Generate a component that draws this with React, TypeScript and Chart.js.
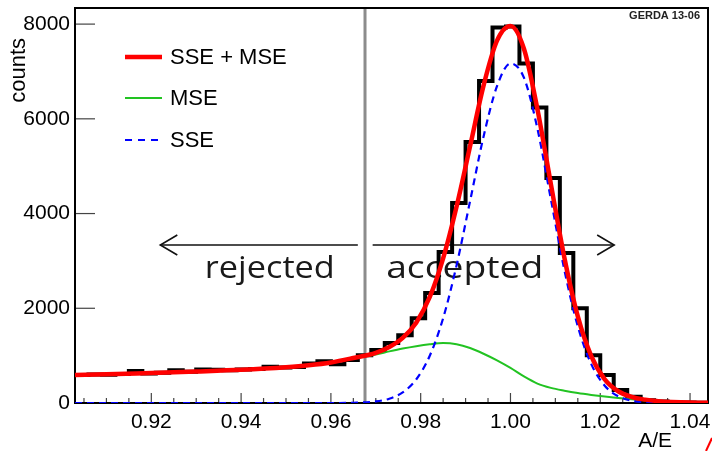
import React, { useEffect, useRef } from "react";
import { Chart, registerables } from "chart.js";

Chart.register(...registerables);

// ---------- data ----------
const histEdges = [
  0.903, 0.906, 0.909, 0.912, 0.915, 0.918, 0.921, 0.924, 0.927, 0.930, 0.933, 0.936,
  0.939, 0.942, 0.945, 0.948, 0.951, 0.954, 0.957, 0.960, 0.963, 0.966, 0.969, 0.972,
  0.975, 0.978, 0.981, 0.984, 0.987, 0.990, 0.993, 0.996, 0.999, 1.002, 1.005, 1.008,
  1.011, 1.014, 1.017, 1.020, 1.023, 1.026, 1.029, 1.032, 1.035, 1.038, 1.041, 1.044,
];
const histCounts = [
  590, 600, 595, 610, 675, 625, 640, 690, 660, 705, 700, 690, 705, 720, 765, 750, 760,
  835, 880, 820, 910,
  1010, 1120, 1265, 1430, 1790, 2320, 3190, 4225, 5510, 6800, 7930, 7950, 7170, 6240,
  4750, 3165, 2000, 1010, 590, 275, 130, 60, 30, 15, 8, 3,
];
const fitX = [
  0.903, 0.91, 0.92, 0.93, 0.94, 0.95, 0.955, 0.96, 0.965, 0.97, 0.973, 0.976, 0.979,
  0.982, 0.985, 0.988, 0.991, 0.994, 0.997, 1.0, 1.003, 1.006, 1.009, 1.012, 1.015,
  1.018, 1.021, 1.024, 1.027, 1.03, 1.033, 1.036, 1.04, 1.044,
];
const fitTotal = [
  590, 605, 635, 665, 700, 755, 795, 855, 950, 1058, 1181, 1374, 1696, 2233, 3055,
  4150, 5420, 6700, 7650, 7960, 7480, 6205, 4623, 3073, 1829, 990, 500, 248, 127, 71,
  39, 21, 8, 3,
];
const fitMSE = [
  590, 605, 635, 665, 700, 755, 795, 855, 945, 1025, 1090, 1150, 1200, 1240, 1265,
  1240, 1160, 1040, 900, 740, 560, 410, 320, 260, 210, 170, 135, 105, 78, 55, 35, 20,
  8, 3,
];
const fitSSE = [
  0, 0, 0, 0, 0, 0, 0, 0, 5, 33, 91, 224, 496, 993, 1790, 2910, 4261, 5624, 6689, 7169,
  6869, 5795, 4303, 2813, 1619, 820, 365, 143, 49, 16, 4, 1, 0, 0,
];
const xTickValues = [0.92, 0.94, 0.96, 0.98, 1.0, 1.02, 1.04];
const yTickValues = [0, 2000, 4000, 6000, 8000];
const seriesLabels = ["SSE + MSE", "MSE", "SSE"];
const seriesColors = ["#ff0000", "#22c322", "#0000ff"];
const xAxisTitle = "A/E";
const yAxisTitle = "counts";
const stampText = "GERDA 13-06";
const regionLabels = ["rejected", "accepted"];
const cutValue = 0.9676;
const arrowLevel = 3335;
const textLevel = 2645;
const rejectArrow = [0.966, 0.922];
const acceptArrow = [0.9693, 1.0231];
const regionLabelCenters = [0.9464, 0.9898];

const X_MIN = 0.903;
const X_MAX = 1.044;
const Y_MAX = 8340;

const FONT = "'Liberation Sans', Arial, Helvetica, sans-serif";

function seg(ctx: CanvasRenderingContext2D, x1: number, y1: number, x2: number, y2: number) {
  ctx.beginPath();
  ctx.moveTo(x1, y1);
  ctx.lineTo(x2, y2);
  ctx.stroke();
}

function arrow(ctx: CanvasRenderingContext2D, tail: number, tip: number, y: number) {
  const dir = Math.sign(tip - tail);
  seg(ctx, tail, y, tip, y);
  ctx.beginPath();
  ctx.moveTo(tip - dir * 17, y - 10);
  ctx.lineTo(tip, y);
  ctx.lineTo(tip - dir * 17, y + 10);
  ctx.stroke();
}

function fitText(ctx: CanvasRenderingContext2D, text: string, cx: number, by: number, target: number) {
  const w = ctx.measureText(text).width;
  ctx.save();
  ctx.translate(cx, by);
  ctx.scale(target / w, 1);
  ctx.textAlign = "center";
  ctx.textBaseline = "alphabetic";
  ctx.fillText(text, 0, 0);
  ctx.restore();
}

const decorPlugin = {
  id: "decor",
  beforeDatasetsDraw(chart: any) {
    const { ctx, chartArea: a } = chart;
    const xs = chart.scales.x;
    const ys = chart.scales.y;
    ctx.save();
    // cut line
    const cx = xs.getPixelForValue(cutValue);
    ctx.strokeStyle = "#8c8c8c";
    ctx.lineWidth = 3;
    seg(ctx, cx, a.top, cx, a.bottom);
    // y ticks
    ctx.strokeStyle = "#444";
    ctx.lineWidth = 1.2;
    for (const t of ys.ticks) {
      const py = ys.getPixelForValue(t.value);
      seg(ctx, a.left, py, a.left + 20, py);
    }
    // x ticks
    const minor = 0.005;
    const first = Math.ceil(X_MIN / minor - 1e-6);
    const last = Math.floor(X_MAX / minor + 1e-6);
    for (let k = first; k <= last; k++) {
      const px = xs.getPixelForValue(k * minor);
      seg(ctx, px, a.bottom, px, a.bottom - (k % 4 === 0 ? 10 : 5));
    }
    // frame
    ctx.strokeStyle = "#000";
    ctx.lineWidth = 2;
    ctx.strokeRect(a.left, a.top, a.right - a.left, a.bottom - a.top);
    // arrows
    ctx.lineWidth = 1.6;
    ctx.strokeStyle = "#111";
    const ay = ys.getPixelForValue(arrowLevel);
    arrow(ctx, xs.getPixelForValue(rejectArrow[0]), xs.getPixelForValue(rejectArrow[1]), ay);
    arrow(ctx, xs.getPixelForValue(acceptArrow[0]), xs.getPixelForValue(acceptArrow[1]), ay);
    // region labels
    ctx.fillStyle = "#1a1a1a";
    ctx.font = "400 31px 'Open Sans', sans-serif";
    const ty = ys.getPixelForValue(textLevel);
    fitText(ctx, regionLabels[0], xs.getPixelForValue(regionLabelCenters[0]), ty, 130);
    fitText(ctx, regionLabels[1], xs.getPixelForValue(regionLabelCenters[1]), ty, 157);
    ctx.restore();
  },
  afterDraw(chart: any) {
    const { ctx, chartArea: a } = chart;
    ctx.save();
    // legend
    const rowY = [a.top + 49, a.top + 90, a.top + 132];
    const widths = [4.5, 2, 2.2];
    for (let i = 0; i < 3; i++) {
      ctx.strokeStyle = seriesColors[i];
      ctx.lineWidth = widths[i];
      ctx.setLineDash(i === 2 ? [7, 6] : []);
      seg(ctx, a.left + 50, rowY[i], a.left + (i === 2 ? 83 : 87), rowY[i]);
      ctx.setLineDash([]);
      ctx.fillStyle = "#000";
      ctx.font = `22px ${FONT}`;
      ctx.textAlign = "left";
      ctx.textBaseline = "middle";
      ctx.fillText(seriesLabels[i], a.left + 95, rowY[i] + 1);
    }
    // stamp
    ctx.font = `bold 11px ${FONT}`;
    ctx.textAlign = "right";
    ctx.textBaseline = "alphabetic";
    ctx.fillStyle = "#222";
    ctx.fillText(stampText, a.right - 8, a.top + 10.5);
    // axis titles
    ctx.fillStyle = "#000";
    ctx.font = `21px ${FONT}`;
    ctx.textAlign = "right";
    ctx.fillText(xAxisTitle, 672, 447);
    ctx.save();
    ctx.translate(25, 38);
    ctx.rotate(-Math.PI / 2);
    ctx.font = `22px ${FONT}`;
    ctx.textAlign = "right";
    ctx.textBaseline = "alphabetic";
    ctx.fillText(yAxisTitle, 0, 0);
    ctx.restore();
    // corner mark
    ctx.strokeStyle = "#ff0000";
    ctx.lineWidth = 2;
    seg(ctx, 706, 451, 712, 438);
    ctx.restore();
  },
};

export default function App() {
  const ref = useRef<HTMLCanvasElement | null>(null);
  useEffect(() => {
    const canvas = ref.current;
    if (!canvas) return;
    const histData = histEdges.map((x, i) => ({ x, y: histCounts[Math.min(i, histCounts.length - 1)] }));
    const curve = (vals: number[]) => fitX.map((x, i) => ({ x, y: vals[i] }));
    const chart = new Chart(canvas, {
      type: "line",
      data: {
        datasets: [
          {
            label: seriesLabels[0],
            data: curve(fitTotal),
            borderColor: seriesColors[0],
            borderWidth: 4.5,
            pointRadius: 0,
            cubicInterpolationMode: "monotone",
            fill: false,
            order: 0,
          },
          {
            label: seriesLabels[2],
            data: curve(fitSSE),
            borderColor: seriesColors[2],
            borderWidth: 2.2,
            borderDash: [7, 5],
            pointRadius: 0,
            cubicInterpolationMode: "monotone",
            fill: false,
            order: 1,
          },
          {
            label: seriesLabels[1],
            data: curve(fitMSE),
            borderColor: seriesColors[1],
            borderWidth: 2,
            pointRadius: 0,
            cubicInterpolationMode: "monotone",
            fill: false,
            order: 2,
          },
          {
            label: "data",
            data: histData,
            borderColor: "#000",
            borderWidth: 4,
            pointRadius: 0,
            stepped: "before",
            fill: false,
            order: 3,
          },
        ],
      } as any,
      options: {
        animation: false,
        responsive: false,
        events: [],
        layout: { padding: { left: 0, top: 8, right: 4, bottom: 0 } },
        plugins: { legend: { display: false }, tooltip: { enabled: false } },
        scales: {
          x: {
            type: "linear",
            min: X_MIN,
            max: X_MAX,
            grid: { display: false, drawTicks: false },
            border: { display: false },
            afterBuildTicks: (s: any) => {
              s.ticks = xTickValues.map((value) => ({ value }));
            },
            ticks: {
              autoSkip: false,
              maxRotation: 0,
              padding: 7,
              color: "#000",
              font: { family: FONT, size: 21 },
              callback: (v: any) => Number(v).toFixed(2),
            },
            afterFit: (s: any) => {
              s.height = 48;
              s.paddingLeft = 0;
              s.paddingRight = 0;
            },
          },
          y: {
            type: "linear",
            min: 0,
            max: Y_MAX,
            grid: { display: false, drawTicks: false },
            border: { display: false },
            afterBuildTicks: (s: any) => {
              s.ticks = yTickValues.map((value) => ({ value }));
            },
            ticks: {
              autoSkip: false,
              padding: 5,
              color: "#000",
              font: { family: FONT, size: 21 },
              callback: (v: any) => String(v),
            },
            afterFit: (s: any) => {
              s.width = 75;
              s.paddingTop = 0;
              s.paddingBottom = 0;
            },
          },
        },
      } as any,
      plugins: [decorPlugin as any],
    });
    return () => chart.destroy();
  }, []);
  return (
    <div style={{ position: "absolute", left: 0, top: 0, width: 712, height: 451, background: "#fff" }}>
      <canvas ref={ref} width={712} height={451} style={{ display: "block" }} />
    </div>
  );
}
